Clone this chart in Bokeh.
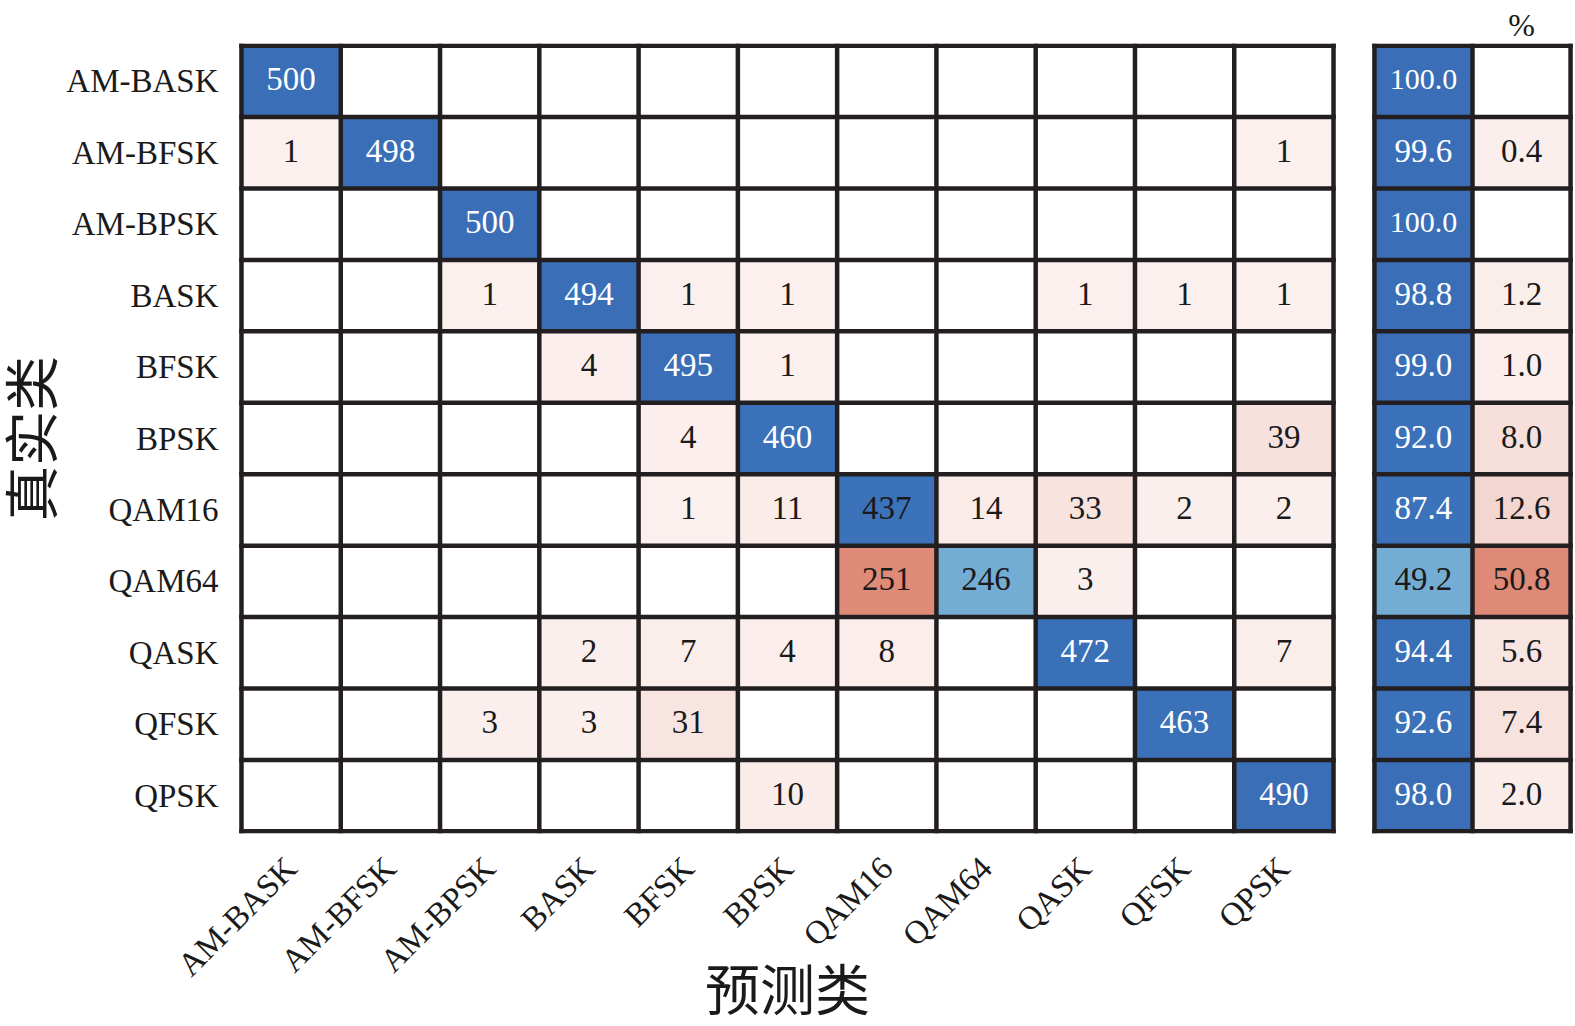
import math
from bokeh.plotting import figure
from bokeh.layouts import row
from bokeh.models import ColumnDataSource, FixedTicker, LinearColorMapper, Range1d, LinearAxis
from bokeh.core.properties import value
from bokeh.embed import file_html
from bokeh.resources import INLINE

# ---------------- data ----------------
classes = ["AM-BASK", "AM-BFSK", "AM-BPSK", "BASK", "BFSK", "BPSK",
           "QAM16", "QAM64", "QASK", "QFSK", "QPSK"]

# rows = true class, columns = predicted class
counts = [
    [500, 0, 0, 0, 0, 0, 0, 0, 0, 0, 0],
    [1, 498, 0, 0, 0, 0, 0, 0, 0, 0, 1],
    [0, 0, 500, 0, 0, 0, 0, 0, 0, 0, 0],
    [0, 0, 1, 494, 1, 1, 0, 0, 1, 1, 1],
    [0, 0, 0, 4, 495, 1, 0, 0, 0, 0, 0],
    [0, 0, 0, 0, 4, 460, 0, 0, 0, 0, 39],
    [0, 0, 0, 0, 1, 11, 437, 14, 33, 2, 2],
    [0, 0, 0, 0, 0, 0, 251, 246, 3, 0, 0],
    [0, 0, 0, 2, 7, 4, 8, 0, 472, 0, 7],
    [0, 0, 3, 3, 31, 0, 0, 0, 0, 463, 0],
    [0, 0, 0, 0, 0, 10, 0, 0, 0, 0, 490],
]
samples_per_class = 500

correct_pct = [100.0, 99.6, 100.0, 98.8, 99.0, 92.0, 87.4, 49.2, 94.4, 92.6, 98.0]
error_pct = [0.0, 0.4, 0.0, 1.2, 1.0, 8.0, 12.6, 50.8, 5.6, 7.4, 2.0]

x_title = "预测类"
y_title = "真实类"
summary_title = "%"

# ---------------- styles ----------------
SERIF = "Liberation Serif"
CJK = "Liberation Serif, Noto Sans CJK SC"
LINE = "#231f20"
DARK_TXT = "#1a1a1a"

blue_anchors = [(0.0, (236, 243, 250)), (0.49, (116, 173, 212)), (0.87, (59, 114, 185)), (1.0, (58, 111, 183))]
red_anchors = [(0.0, (251, 240, 238)), (0.5, (224, 138, 120)), (1.0, (196, 68, 52))]


def make_palette(anchors, n=256):
    pal = []
    for i in range(n):
        t = i / (n - 1)
        for (f0, c0), (f1, c1) in zip(anchors[:-1], anchors[1:]):
            if f0 <= t <= f1:
                u = (t - f0) / (f1 - f0) if f1 > f0 else 0
                c = tuple(int(round(a + (b - a) * u)) for a, b in zip(c0, c1))
                break
        pal.append("#%02x%02x%02x" % c)
    return pal


blue_map = LinearColorMapper(palette=make_palette(blue_anchors), low=0, high=1)
red_map = LinearColorMapper(palette=make_palette(red_anchors), low=0, high=1)

n = len(classes)
pad = 0.03
H = 1024
TOP, BOTTOM = 43, 189

y_range = Range1d(n + pad, -pad)

common = dict(height=H, y_range=y_range, output_backend="svg", toolbar_location=None,
              min_border_top=TOP, min_border_bottom=BOTTOM, min_border_right=0)

p = figure(width=1336, x_range=Range1d(-pad, n + pad), min_border_left=238, **common)
q = figure(width=237, x_range=Range1d(-pad, 2 + pad), min_border_left=35,
           x_axis_location=None, y_axis_location=None, **common)
for fig in (p, q):
    fig.outline_line_color = None
    fig.xgrid.visible = False
    fig.ygrid.visible = False
    fig.background_fill_color = "white"
    fig.border_fill_color = "white"

txt_kw = dict(text_align="center", text_baseline="middle",
              text_font=value(SERIF), y_offset=-2)

# ---------------- main matrix cells ----------------
diag = dict(x=[], y=[], frac=[], txt=[], tc=[])
off = dict(x=[], y=[], frac=[], txt=[])
for r in range(n):
    for c in range(n):
        v = counts[r][c]
        if v == 0:
            continue
        f = v / samples_per_class
        if r == c:
            diag["x"].append(c + 0.5)
            diag["y"].append(r + 0.5)
            diag["frac"].append(f)
            diag["txt"].append(str(v))
            diag["tc"].append("white" if f >= 0.9 else DARK_TXT)
        else:
            off["x"].append(c + 0.5)
            off["y"].append(r + 0.5)
            off["frac"].append(f)
            off["txt"].append(str(v))

src_d = ColumnDataSource(diag)
src_o = ColumnDataSource(off)
p.rect("x", "y", 1, 1, source=src_d, fill_color={"field": "frac", "transform": blue_map}, line_color=None)
p.rect("x", "y", 1, 1, source=src_o, fill_color={"field": "frac", "transform": red_map}, line_color=None)

gx0, gy0, gx1, gy1 = [], [], [], []
for k in range(n + 1):
    gx0 += [k, 0]; gy0 += [0, k]; gx1 += [k, n]; gy1 += [n, k]
p.segment(gx0, gy0, gx1, gy1, line_color=LINE, line_width=4.5, line_cap="square")

p.text("x", "y", text="txt", source=src_d, text_color="tc", text_font_size="33px", **txt_kw)
p.text("x", "y", text="txt", source=src_o, text_color=DARK_TXT, text_font_size="33px", **txt_kw)

# ---------------- summary cells ----------------
sc = dict(x=[], y=[], frac=[], txt=[], tc=[], fs=[])
se = dict(x=[], y=[], frac=[], txt=[], fs=[])
for r in range(n):
    t = "%.1f" % correct_pct[r]
    sc["x"].append(0.5)
    sc["y"].append(r + 0.5)
    sc["frac"].append(correct_pct[r] / 100)
    sc["txt"].append(t)
    sc["tc"].append("white" if correct_pct[r] >= 60 else DARK_TXT)
    sc["fs"].append("30px" if len(t) > 4 else "33px")
    if error_pct[r] > 0:
        t = "%.1f" % error_pct[r]
        se["x"].append(1.5)
        se["y"].append(r + 0.5)
        se["frac"].append(error_pct[r] / 100)
        se["txt"].append(t)
        se["fs"].append("30px" if len(t) > 4 else "33px")

src_sc = ColumnDataSource(sc)
src_se = ColumnDataSource(se)
q.rect("x", "y", 1, 1, source=src_sc, fill_color={"field": "frac", "transform": blue_map}, line_color=None)
q.rect("x", "y", 1, 1, source=src_se, fill_color={"field": "frac", "transform": red_map}, line_color=None)

hx0, hy0, hx1, hy1 = [], [], [], []
for k in range(n + 1):
    hx0.append(0); hy0.append(k); hx1.append(2); hy1.append(k)
for k in range(3):
    hx0.append(k); hy0.append(0); hx1.append(k); hy1.append(n)
q.segment(hx0, hy0, hx1, hy1, line_color=LINE, line_width=4.5, line_cap="square")

q.text("x", "y", text="txt", source=src_sc, text_color="tc", text_font_size="fs", **txt_kw)
q.text("x", "y", text="txt", source=src_se, text_color=DARK_TXT, text_font_size="fs", **txt_kw)

# ---------------- axes ----------------
ticks = [i + 0.5 for i in range(n)]
for ax in (p.xaxis[0], p.yaxis[0]):
    ax.ticker = FixedTicker(ticks=ticks)
    ax.major_label_overrides = {t: classes[i] for i, t in enumerate(ticks)}
    ax.axis_line_color = None
    ax.major_tick_line_color = None
    ax.minor_tick_line_color = None
    ax.major_tick_out = 0
    ax.major_tick_in = 0
    ax.minor_tick_out = 0
    ax.major_label_text_font = SERIF
    ax.major_label_text_font_size = "33px"
    ax.major_label_text_color = DARK_TXT
    ax.axis_label_text_font = CJK
    ax.axis_label_text_font_size = "55px"
    ax.axis_label_text_font_style = "normal"
    ax.axis_label_text_color = DARK_TXT

p.xaxis.major_label_orientation = math.pi / 4
p.xaxis.major_label_standoff = 29
p.xaxis.axis_label = x_title
p.xaxis.axis_label_standoff = -38

p.yaxis.major_label_standoff = 20
p.yaxis.axis_label = y_title
p.yaxis.axis_label_standoff = -1

top_axis = LinearAxis(ticker=FixedTicker(ticks=[1.5]),
                      major_label_overrides={1.5: summary_title},
                      axis_line_color=None, major_tick_line_color=None, minor_tick_line_color=None,
                      major_tick_out=0, major_tick_in=0, minor_tick_out=0,
                      major_label_standoff=1,
                      major_label_text_font=SERIF, major_label_text_font_size="32px",
                      major_label_text_color=DARK_TXT)
q.add_layout(top_axis, "above")

layout = row(p, q)
open("out.html", "w").write(file_html(layout, INLINE))
